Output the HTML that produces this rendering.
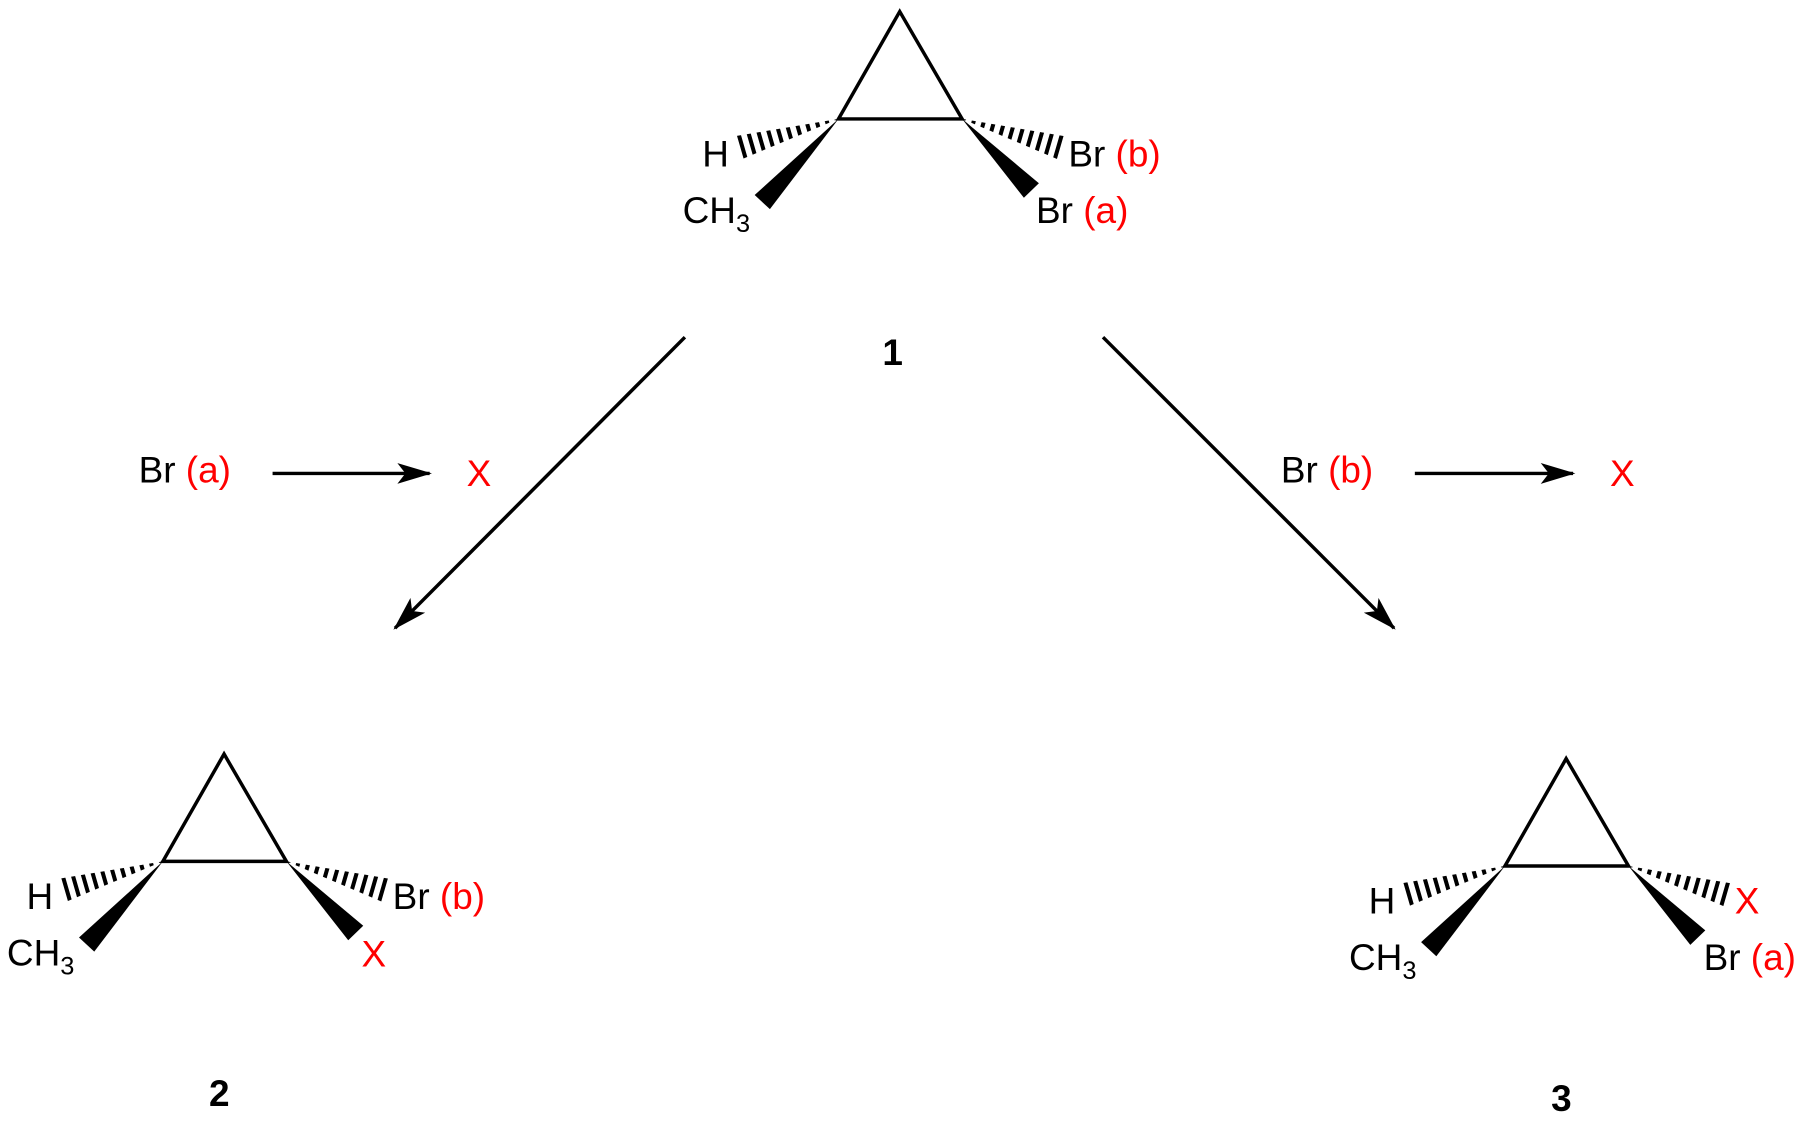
<!DOCTYPE html>
<html><head><meta charset="utf-8"><style>
html,body{margin:0;padding:0;background:#fff;}
svg{display:block;}
text{font-family:"Liberation Sans",Arial,sans-serif;font-size:32px;fill:#000;}
.r{fill:#f00;}
</style></head><body>
<svg width="1811" height="1127" viewBox="0 0 1568 976" preserveAspectRatio="none" xmlns="http://www.w3.org/2000/svg">
<defs>
<clipPath id="hl" clipPathUnits="userSpaceOnUse"><polygon points="726,103 642,138 636,118"/></clipPath>
<clipPath id="hr" clipPathUnits="userSpaceOnUse"><polygon points="833,103 916,138 922,118"/></clipPath>
<marker id="ah" viewBox="0 0 30 18" refX="28" refY="9" markerWidth="30" markerHeight="18" markerUnits="userSpaceOnUse" orient="auto">
<path d="M0,0 L30,9 L0,18 L7,9 Z" fill="#000"/></marker>
<g id="mol">
<polygon points="779,10 726,103 833,103" fill="none" stroke="#000" stroke-width="3" stroke-linejoin="miter"/>
<line x1="726" y1="103" x2="636" y2="129" stroke="#000" stroke-width="26" stroke-dasharray="3.5 5" clip-path="url(#hl)"/>
<line x1="833" y1="103" x2="923" y2="129" stroke="#000" stroke-width="26" stroke-dasharray="3.5 5" clip-path="url(#hr)"/>
<polygon points="726,103 666.6,181.1 653.4,168.9" fill="#000"/>
<polygon points="833,103 899.5,158.7 886.5,171.3" fill="#000"/>
</g>
</defs>
<use href="#mol"/>
<use href="#mol" transform="translate(-585,643)"/>
<use href="#mol" transform="translate(577,647)"/>

<text x="608" y="144">H</text>
<text x="591" y="193">CH<tspan font-size="22" dy="8">3</tspan></text>
<text x="925" y="144">Br <tspan class="r">(b)</tspan></text>
<text x="897" y="193">Br <tspan class="r">(a)</tspan></text>
<text x="764" y="316" font-weight="bold">1</text>

<line x1="593" y1="292" x2="342" y2="544" stroke="#000" stroke-width="3" marker-end="url(#ah)"/>
<line x1="955" y1="292" x2="1207" y2="544" stroke="#000" stroke-width="3" marker-end="url(#ah)"/>
<text x="120" y="418">Br <tspan class="r">(a)</tspan></text>
<line x1="236" y1="410" x2="372" y2="410" stroke="#000" stroke-width="3" marker-end="url(#ah)"/>
<text x="404" y="421" class="r">X</text>
<text x="1109" y="418">Br <tspan class="r">(b)</tspan></text>
<line x1="1225" y1="410" x2="1362" y2="410" stroke="#000" stroke-width="3" marker-end="url(#ah)"/>
<text x="1394" y="421" class="r">X</text>

<text x="23" y="787">H</text>
<text x="6" y="836">CH<tspan font-size="22" dy="8">3</tspan></text>
<text x="340" y="787">Br <tspan class="r">(b)</tspan></text>
<text x="313" y="837" class="r">X</text>
<text x="181" y="958" font-weight="bold">2</text>

<text x="1185" y="791">H</text>
<text x="1168" y="840">CH<tspan font-size="22" dy="8">3</tspan></text>
<text x="1502" y="791" class="r">X</text>
<text x="1475" y="840">Br <tspan class="r">(a)</tspan></text>
<text x="1343" y="962" font-weight="bold">3</text>
</svg>
</body></html>
